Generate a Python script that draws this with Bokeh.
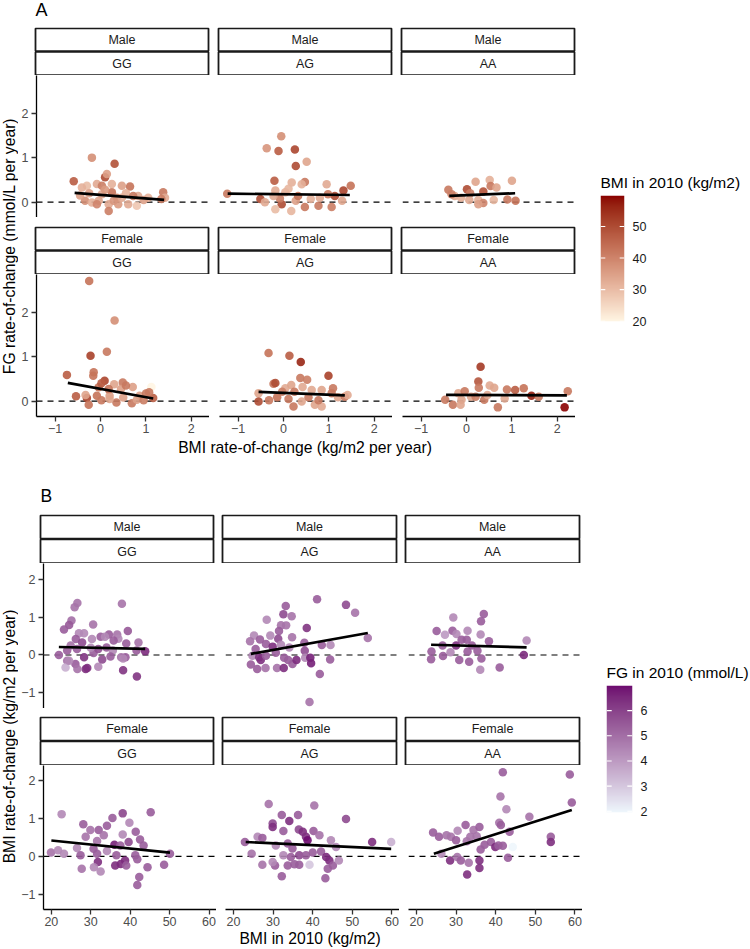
import numpy as np
from bokeh.plotting import figure
from bokeh.models import (Range1d, LinearAxis, FixedTicker, Span, Spacer,
                          LinearColorMapper, ColumnDataSource)
from bokeh.layouts import row, column
from bokeh.core.properties import value
from bokeh.embed import file_html
from bokeh.resources import INLINE

FONT = "Liberation Sans"
SEXES = ["Male", "Female"]
GENOTYPES = ["GG", "AG", "AA"]

# ---------------------------------------------------------------------------
# Panel A: FG rate-of-change (y) vs BMI rate-of-change (x), colour = BMI in 2010
# each entry: (BMI rate-of-change, FG rate-of-change, BMI in 2010)
# ---------------------------------------------------------------------------
a_male_gg = [(-0.59, 0.47, 47), (-0.19, 1.00, 38), (0.31, 0.86, 49), (0.10, 0.56, 50),
             (0.14, 0.63, 35), (-0.08, 0.41, 33), (-0.30, 0.37, 30), (-0.41, 0.33, 32),
             (0.65, 0.35, 43), (0.47, 0.37, 35), (0.25, 0.22, 43), (0.36, 0.10, 38),
             (0.03, 0.18, 33), (-0.34, 0.03, 38), (-0.19, -0.01, 32), (-0.04, 0.03, 34),
             (0.18, -0.05, 33), (0.18, -0.20, 41), (0.39, -0.05, 36), (0.61, -0.05, 33),
             (0.80, -0.08, 28), (0.83, 0.14, 33), (1.05, 0.10, 32), (1.38, 0.22, 42),
             (1.42, 0.10, 33), (1.34, 0.07, 41), (-0.08, -0.05, 40), (0.29, 0.03, 37),
             (0.47, 0.10, 33), (0.03, 0.37, 41), (0.25, 0.41, 32), (0.56, 0.20, 32),
             (0.72, 0.14, 42), (-0.45, 0.15, 35), (0.10, 0.28, 36), (-0.25, 0.20, 35),
             (0.95, 0.05, 35)]
a_male_ag = [(-1.24, 0.19, 42), (-0.37, 1.21, 37), (-0.05, 1.48, 38), (-0.11, 1.15, 47),
             (0.25, 1.18, 51), (0.27, 0.81, 50), (0.51, 0.91, 34), (-0.20, 0.48, 47),
             (0.47, 0.45, 42), (0.18, 0.44, 32), (0.95, 0.40, 33), (1.48, 0.37, 43),
             (1.32, 0.26, 51), (1.13, 0.14, 50), (0.98, 0.18, 42), (-0.51, 0.07, 50),
             (-0.18, 0.26, 33), (0.04, 0.22, 32), (0.11, 0.30, 31), (-0.04, -0.05, 50),
             (-0.18, -0.16, 30), (0.17, -0.20, 31), (0.47, -0.11, 42), (0.77, -0.08, 42),
             (1.06, -0.11, 41), (1.29, 0.03, 34), (-0.41, 0.00, 33), (0.27, 0.03, 35),
             (0.60, 0.07, 32), (0.80, 0.10, 33), (0.32, 0.14, 43), (-0.08, 0.08, 41),
             (0.40, 0.40, 32), (-0.22, 0.14, 33)]
a_male_aa = [(-0.40, 0.28, 42), (0.01, 0.29, 50), (0.20, 0.46, 34), (0.51, 0.50, 32),
             (0.53, 0.36, 42), (0.66, 0.33, 34), (1.00, 0.48, 34), (0.37, 0.24, 49),
             (-0.26, 0.14, 33), (-0.12, 0.10, 32), (0.08, 0.20, 41), (0.26, 0.05, 32),
             (0.37, -0.02, 40), (0.26, -0.05, 35), (0.60, 0.05, 31), (0.90, 0.06, 42),
             (1.08, 0.03, 43), (0.06, 0.05, 33), (-0.33, 0.18, 41)]
a_female_gg = [(-0.25, 2.70, 43), (0.31, 1.81, 38), (-0.22, 1.02, 52), (0.14, 1.11, 42),
               (-0.74, 0.59, 47), (-0.15, 0.65, 43), (-0.16, 0.57, 43), (0.09, 0.46, 51),
               (0.49, 0.42, 42), (0.30, 0.38, 34), (0.71, 0.32, 35), (1.12, 0.32, 19.9),
               (-0.54, 0.11, 47), (-0.30, 0.07, 51), (-0.26, -0.08, 43), (-0.08, 0.12, 43),
               (0.02, 0.02, 42), (0.20, 0.12, 35), (0.35, -0.03, 42), (0.50, 0.08, 35),
               (0.69, -0.05, 42), (0.86, 0.12, 35), (1.00, 0.17, 42), (1.16, 0.07, 47),
               (1.07, 0.20, 42), (0.18, 0.27, 43), (-0.04, 0.31, 43), (0.45, 0.27, 35),
               (0.56, 0.35, 42), (-0.33, 0.14, 34), (0.02, 0.40, 47), (0.20, 0.05, 34),
               (0.80, 0.03, 35), (0.95, 0.02, 41)]
a_female_ag = [(-0.33, 1.08, 43), (0.13, 1.02, 47), (0.38, 0.88, 56), (0.99, 0.57, 52),
               (-0.22, 0.39, 43), (-0.18, 0.41, 50), (0.37, 0.52, 42), (0.52, 0.48, 41),
               (0.04, 0.29, 33), (0.17, 0.36, 34), (-0.55, 0.18, 34), (-0.55, -0.01, 50),
               (-0.32, 0.02, 42), (-0.14, 0.09, 43), (0.11, 0.05, 42), (0.22, -0.12, 42),
               (0.40, -0.01, 34), (0.55, 0.09, 42), (0.69, -0.08, 34), (0.84, -0.12, 33),
               (0.77, 0.02, 42), (1.06, 0.18, 42), (1.09, 0.29, 42), (1.20, 0.09, 34),
               (1.35, 0.10, 42), (1.41, 0.14, 33), (0.62, 0.25, 33), (0.24, 0.21, 42),
               (0.84, 0.25, 34), (-0.03, 0.21, 41), (0.42, 0.32, 33)]
a_female_aa = [(0.31, 0.77, 53), (0.26, 0.44, 48), (0.51, 0.35, 33), (0.27, 0.30, 42),
               (0.61, 0.30, 34), (0.89, 0.26, 42), (1.07, 0.25, 47), (1.26, 0.29, 43),
               (1.43, 0.12, 57), (1.59, 0.10, 42), (2.23, 0.22, 42), (2.16, -0.14, 59.8),
               (-0.47, 0.03, 42), (-0.30, -0.08, 42), (-0.11, 0.03, 34), (-0.13, -0.08, 34),
               (-0.18, 0.18, 34), (-0.04, 0.22, 42), (0.10, 0.10, 34), (0.39, 0.03, 42),
               (0.69, -0.14, 42), (0.84, 0.06, 33), (0.46, 0.14, 33), (0.20, 0.10, 41)]

# linear fits per facet (Male GG, AG, AA, Female GG, AG, AA): end points
a_fit_x = [(-0.57, 1.40), (-1.23, 1.46), (-0.38, 1.07), (-0.72, 1.16), (-0.55, 1.35), (-0.45, 2.21)]
a_fit_y = [(0.21, 0.05), (0.19, 0.16), (0.14, 0.20), (0.41, 0.06), (0.21, 0.13), (0.14, 0.13)]

a_x_ticks = [-1, 0, 1, 2]
a_y_ticks = [0, 1, 2]
a_color_ticks = [20, 30, 40, 50]

# ---------------------------------------------------------------------------
# Panel B: BMI rate-of-change (y) vs BMI in 2010 (x), colour = FG in 2010
# each entry: (BMI in 2010, BMI rate-of-change, FG in 2010)
# ---------------------------------------------------------------------------
b_male_gg = [(26.6, 1.37, 4.9), (25.9, 1.26, 4.9), (37.9, 1.35, 4.9), (25.1, 0.91, 5.0),
             (24.5, 0.79, 5.5), (23.2, 0.67, 5.4), (30.6, 0.80, 4.9), (39.4, 0.63, 5.5),
             (27.0, 0.57, 4.4), (28.3, 0.57, 4.4), (32.5, 0.48, 5.4), (34.6, 0.54, 5.4),
             (36.7, 0.54, 4.9), (37.0, 0.43, 4.4), (26.2, 0.42, 5.4), (27.8, 0.33, 5.8),
             (30.3, 0.42, 4.4), (33.6, 0.48, 4.4), (35.8, 0.38, 5.4), (39.0, 0.30, 5.4),
             (42.1, 0.33, 4.9), (43.8, 0.10, 6.5), (21.9, 0.00, 5.4), (24.0, 0.12, 5.4),
             (24.9, 0.25, 4.9), (26.5, 0.16, 5.4), (28.3, -0.06, 6.3), (30.7, 0.05, 5.4),
             (31.9, 0.16, 5.7), (34.0, 0.20, 5.4), (35.6, 0.12, 4.4), (37.7, -0.06, 4.9),
             (38.8, -0.06, 5.4), (41.6, 0.12, 5.4), (24.0, -0.15, 4.9), (26.1, -0.24, 5.4),
             (23.6, -0.33, 3.5), (24.5, -0.15, 4.4), (28.7, -0.37, 6.4), (29.1, -0.34, 6.4),
             (26.6, -0.37, 4.9), (31.9, -0.31, 4.4), (32.9, -0.12, 5.8), (38.2, -0.40, 6.3),
             (41.7, -0.57, 6.3), (38.2, -0.09, 4.4), (35.0, -0.04, 5.4), (30.0, 0.19, 4.4)]
b_male_ag = [(41.1, 1.47, 5.4), (48.4, 1.32, 5.8), (50.7, 1.11, 4.9), (33.2, 1.29, 5.4),
             (32.6, 1.07, 5.8), (34.7, 1.02, 4.9), (28.4, 0.93, 4.4), (32.0, 0.78, 4.9),
             (33.3, 0.78, 4.9), (38.5, 0.71, 6.3), (31.5, 0.63, 5.4), (34.8, 0.47, 4.9),
             (31.3, 0.43, 5.8), (29.3, 0.51, 4.4), (25.2, 0.51, 4.4), (24.2, 0.36, 4.9),
             (26.7, 0.41, 5.4), (28.2, 0.29, 5.4), (29.9, 0.22, 6.4), (37.9, 0.32, 5.4),
             (42.3, 0.26, 5.4), (44.5, 0.26, 4.4), (53.9, 0.45, 4.9), (25.6, 0.16, 5.4),
             (24.8, -0.02, 4.4), (26.5, -0.06, 6.4), (24.4, -0.25, 5.4), (26.0, -0.37, 5.4),
             (28.1, -0.34, 4.9), (26.9, -0.13, 6.4), (30.7, 0.06, 5.4), (32.8, -0.07, 5.4),
             (31.0, -0.34, 4.9), (32.7, -0.34, 6.4), (33.8, -0.13, 5.4), (34.9, -0.24, 5.4),
             (35.9, -0.13, 6.5), (38.0, 0.11, 5.8), (38.1, -0.07, 4.4), (39.4, -0.07, 6.7),
             (39.6, -0.22, 6.7), (41.8, -0.50, 5.4), (44.4, -0.12, 5.4), (39.2, -1.24, 4.9),
             (34.1, 0.20, 4.4), (32.0, 0.27, 4.4), (28.2, -0.02, 5.4)]
b_male_aa = [(29.3, 0.99, 4.4), (37.0, 1.08, 5.4), (36.3, 0.89, 5.4), (25.1, 0.63, 5.4),
             (27.2, 0.53, 4.0), (29.1, 0.64, 5.4), (30.1, 0.55, 4.4), (32.9, 0.64, 4.4),
             (36.2, 0.54, 4.4), (31.4, 0.40, 5.4), (32.7, 0.40, 5.4), (38.3, 0.36, 5.4),
             (47.8, 0.38, 4.4), (26.6, 0.25, 5.4), (30.0, 0.25, 6.4), (34.0, 0.25, 5.4),
             (35.4, 0.11, 5.4), (32.9, 0.09, 5.4), (23.8, 0.09, 5.4), (28.6, 0.07, 4.4),
             (47.1, 0.00, 6.5), (23.7, -0.11, 5.4), (26.7, -0.03, 5.4), (30.8, -0.13, 5.4),
             (33.3, -0.18, 5.4), (36.4, -0.09, 5.4), (36.1, -0.39, 4.4), (41.0, -0.33, 5.4)]
b_female_gg = [(22.6, 1.12, 4.4), (45.2, 1.17, 5.4), (38.1, 1.14, 5.9), (35.5, 1.02, 5.4),
               (28.1, 0.85, 5.4), (39.8, 0.89, 4.4), (34.1, 0.81, 5.4), (29.9, 0.70, 4.9),
               (32.0, 0.70, 5.4), (28.7, 0.52, 4.9), (33.3, 0.56, 4.9), (38.1, 0.58, 4.4),
               (41.4, 0.65, 5.4), (42.5, 0.45, 5.4), (43.4, 0.29, 5.4), (36.0, 0.31, 6.7),
               (37.5, 0.29, 5.4), (39.6, 0.38, 5.8), (31.6, 0.41, 4.9), (26.5, 0.22, 4.4),
               (30.7, 0.20, 5.4), (34.1, 0.14, 4.4), (19.9, 0.10, 4.9), (21.7, 0.16, 4.4),
               (23.2, 0.07, 4.4), (27.4, 0.03, 5.4), (31.6, 0.07, 5.4), (36.5, 0.03, 5.4),
               (38.7, -0.11, 6.5), (41.3, 0.03, 5.4), (31.8, -0.15, 6.4), (36.2, -0.24, 6.4),
               (37.6, -0.20, 6.5), (39.0, -0.24, 5.4), (41.8, -0.08, 5.4), (27.7, -0.33, 4.9),
               (30.8, -0.29, 4.4), (32.5, -0.40, 4.4), (44.4, -0.29, 5.4), (48.6, -0.22, 5.4),
               (50.1, 0.07, 5.4), (42.3, -0.55, 5.4), (41.8, -0.76, 5.4)]
b_female_ag = [(28.9, 1.39, 4.9), (40.4, 1.35, 4.9), (48.4, 0.99, 5.8), (55.0, 0.38, 6.4),
               (59.8, 0.38, 3.5), (22.9, 0.38, 5.4), (24.6, 0.07, 4.9), (26.1, 0.52, 4.4),
               (27.3, 0.49, 5.4), (29.9, 0.87, 5.8), (29.9, 0.78, 6.4), (32.2, 1.10, 5.4),
               (34.1, 0.94, 6.4), (36.3, 1.10, 5.4), (32.6, 0.67, 5.4), (36.5, 0.71, 5.8),
               (37.5, 0.65, 6.4), (38.3, 0.52, 6.4), (38.7, 0.43, 7.0), (40.2, 0.67, 5.4),
               (41.7, 0.56, 4.9), (44.6, 0.43, 4.4), (45.9, 0.25, 4.4), (30.7, 0.29, 4.4),
               (33.7, 0.34, 5.4), (34.9, 0.21, 5.4), (36.6, 0.03, 5.8), (40.0, 0.10, 5.4),
               (42.1, 0.13, 5.4), (43.4, -0.02, 6.5), (32.6, 0.03, 4.4), (34.5, -0.02, 5.4),
               (27.3, -0.22, 4.9), (30.5, -0.24, 5.4), (33.7, -0.24, 5.4), (36.6, -0.22, 5.4),
               (35.4, -0.21, 5.4), (29.9, -0.15, 4.4), (39.2, -0.22, 3.0), (44.2, -0.11, 6.5),
               (45.1, -0.24, 5.4), (46.6, -0.11, 4.4), (32.2, -0.53, 5.4), (43.2, -0.58, 5.4),
               (43.8, -0.33, 5.4), (38.3, 0.03, 5.4)]
b_female_aa = [(41.8, 2.23, 5.4), (58.7, 2.17, 5.4), (59.2, 1.43, 5.4), (41.2, 1.59, 4.9),
               (42.7, 1.25, 4.4), (48.5, 1.05, 4.9), (40.9, 0.89, 4.9), (41.3, 0.83, 5.4),
               (32.4, 0.83, 5.4), (30.4, 0.68, 4.4), (34.4, 0.70, 4.9), (35.9, 0.78, 5.4),
               (24.2, 0.63, 5.4), (25.7, 0.52, 5.4), (27.6, 0.56, 4.9), (28.7, 0.52, 4.9),
               (30.0, 0.43, 5.4), (32.7, 0.40, 4.9), (33.6, 0.52, 4.9), (35.2, 0.53, 4.9),
               (37.2, 0.31, 5.4), (38.8, 0.38, 5.4), (39.9, 0.25, 6.5), (40.7, 0.29, 5.4),
               (41.8, 0.28, 5.4), (43.5, 0.65, 5.4), (36.2, 0.18, 5.4), (44.3, 0.25, 1.95),
               (53.9, 0.52, 5.4), (53.9, 0.38, 6.4), (28.5, -0.11, 6.4), (30.3, -0.02, 4.9),
               (31.2, -0.11, 5.4), (33.2, -0.17, 4.9), (32.8, -0.48, 6.4), (35.9, -0.11, 6.4),
               (35.9, -0.31, 6.4), (43.1, -0.04, 5.4), (26.3, 0.07, 4.4)]

b_fit_x = [(21.9, 43.8), (24.4, 53.9), (23.7, 47.8), (20.0, 50.1), (23.1, 59.8), (24.4, 59.2)]
b_fit_y = [(0.21, 0.16), (0.03, 0.58), (0.27, 0.20), (0.42, 0.10), (0.38, 0.20), (0.07, 1.23)]

b_x_ticks = [20, 30, 40, 50, 60]
b_y_ticks = [-1, 0, 1, 2]
b_color_ticks = [2, 3, 4, 5, 6]


# ---------------------------------------------------------------------------
# colour ramps interpolated in CIELAB
# ---------------------------------------------------------------------------
def _to_lab(h):
    rgb = [int(h[i:i + 2], 16) / 255 for i in (1, 3, 5)]
    lin = [c / 12.92 if c <= 0.04045 else ((c + 0.055) / 1.055) ** 2.4 for c in rgb]
    m = [[0.4124564, 0.3575761, 0.1804375],
         [0.2126729, 0.7151522, 0.0721750],
         [0.0193339, 0.1191920, 0.9503041]]
    X, Y, Z = [sum(m[i][j] * lin[j] for j in range(3)) for i in range(3)]
    d = 6 / 29

    def f(t):
        return t ** (1 / 3) if t > d ** 3 else t / (3 * d * d) + 4 / 29

    fx, fy, fz = f(X / 0.95047), f(Y), f(Z / 1.08883)
    return 116 * fy - 16, 500 * (fx - fy), 200 * (fy - fz)


def _to_hex(lab):
    L, a, b = lab
    fy = (L + 16) / 116
    fx, fz = fy + a / 500, fy - b / 200
    d = 6 / 29

    def g(t):
        return t ** 3 if t > d else 3 * d * d * (t - 4 / 29)

    X, Y, Z = 0.95047 * g(fx), g(fy), 1.08883 * g(fz)
    mi = [[3.2404542, -1.5371385, -0.4985314],
          [-0.9692660, 1.8760108, 0.0415560],
          [0.0556434, -0.2040259, 1.0572252]]
    out = []
    for r in mi:
        c = min(1.0, max(0.0, r[0] * X + r[1] * Y + r[2] * Z))
        c = 12.92 * c if c <= 0.0031308 else 1.055 * c ** (1 / 2.4) - 0.055
        out.append(int(round(min(1.0, max(0.0, c)) * 255)))
    return "#%02x%02x%02x" % tuple(out)


def lab_ramp(lo, hi, n=256):
    a, b = np.array(_to_lab(lo)), np.array(_to_lab(hi))
    return [_to_hex(a + (b - a) * t) for t in np.linspace(0, 1, n)]


# ---------------------------------------------------------------------------
# drawing helpers
# ---------------------------------------------------------------------------
def base_fig(**kw):
    p = figure(toolbar_location=None, tools="", output_backend="svg",
               x_axis_location=None, y_axis_location=None, min_border=0,
               outline_line_color=None, background_fill_color="white",
               border_fill_color="white", **kw)
    p.grid.visible = False
    return p


def canvas(w, h):
    return base_fig(width=w, height=h, x_range=Range1d(0, w), y_range=Range1d(h, 0))


def put_text(p, x, y, s, size, color="black", align="left", angle=0.0):
    p.text(x=[x], y=[y], text=[s], text_font=value(FONT), text_font_size=size,
           text_color=color, text_align=align, text_baseline="middle", angle=angle)


def style_axis(ax, ticks, standoff):
    ax.ticker = FixedTicker(ticks=ticks)
    ax.axis_line_color = "black"
    ax.axis_line_width = 1.3
    ax.major_tick_line_color = "#333333"
    ax.major_tick_line_width = 1.3
    ax.major_tick_in = 0
    ax.major_tick_out = 5
    ax.minor_tick_line_color = None
    ax.major_label_standoff = standoff
    ax.major_label_text_font = FONT
    ax.major_label_text_font_size = "12.5px"
    ax.major_label_text_color = "#4D4D4D"


def strip_row(x0, x1, y0, y1, cols, sex):
    p = base_fig(width=x1 - x0, height=y1 - y0,
                 x_range=Range1d(x0, x1), y_range=Range1d(y1, y0))
    mid = (y0 + y1) / 2
    for (l, r), gt in zip(cols, GENOTYPES):
        p.quad(left=[l, l], right=[r, r], top=[y0 + 0.9, mid + 0.45],
               bottom=[mid - 0.45, y1 - 0.3], fill_color="white",
               line_color="#1A1A1A", line_width=1.8)
        put_text(p, (l + r) / 2, (y0 + mid) / 2 + 0.5, sex, "12.5px", "#1A1A1A", "center")
        put_text(p, (l + r) / 2, (mid + y1) / 2 + 0.5, gt, "12.5px", "#1A1A1A", "center")
    return p


def facet(pts, fx, fy, xr, yr, mapper, fw, fh, left, bottom, xticks, yticks):
    p = base_fig(frame_width=fw, frame_height=fh, x_range=xr, y_range=yr,
                 min_border_left=left, min_border_bottom=bottom)
    p.add_layout(Span(location=0, dimension="width", line_color="black",
                      line_width=1.2, line_dash="6 5", level="underlay"))
    src = ColumnDataSource(dict(x=[t[0] for t in pts], y=[t[1] for t in pts],
                                c=[t[2] for t in pts]))
    p.scatter("x", "y", source=src, size=8.5, line_color=None, fill_alpha=0.9,
              fill_color={"field": "c", "transform": mapper})
    p.line(x=list(fx), y=list(fy), line_color="black", line_width=2.7)
    if left:
        ax = LinearAxis()
        style_axis(ax, yticks, 3)
        p.add_layout(ax, "left")
    if bottom:
        ax = LinearAxis()
        style_axis(ax, xticks, 2)
        p.add_layout(ax, "below")
    return p


def colorbar(mapper, lo, hi, ticks, title, w, fw, fh, left, top, bottom):
    p = base_fig(frame_width=fw, frame_height=fh, x_range=Range1d(0, 1),
                 y_range=Range1d(lo, hi), min_border_left=left,
                 min_border_right=w - left - fw, min_border_top=top,
                 min_border_bottom=bottom)
    p.title.text = title
    p.title.align = "left"
    p.title.text_font = FONT
    p.title.text_font_size = "15.5px"
    p.title.text_font_style = "normal"
    p.title.text_color = "black"
    p.title.standoff = 10
    p.image(image=[np.linspace(lo, hi, 400).reshape(400, 1)], x=0, y=lo,
            dw=1, dh=hi - lo, color_mapper=mapper)
    n = len(ticks)
    p.segment(x0=[0] * n + [0.8] * n, x1=[0.2] * n + [1] * n,
              y0=list(ticks) * 2, y1=list(ticks) * 2,
              line_color="white", line_width=1.1)
    ax = LinearAxis(ticker=FixedTicker(ticks=ticks), axis_line_color=None,
                    major_tick_line_color=None, minor_tick_line_color=None,
                    major_tick_in=0, major_tick_out=0, major_label_standoff=8,
                    major_label_text_font=FONT, major_label_text_font_size="12.5px",
                    major_label_text_color="#1A1A1A")
    p.add_layout(ax, "right")
    return p


def panel(letter, letter_pos, head_h, letter_size, facets_pts, fit_x, fit_y, xr, yr,
          mapper, lo, hi, cticks, geo):
    header = canvas(750, head_h)
    put_text(header, letter_pos[0], letter_pos[1], letter, letter_size)

    mid_w = geo["mid_w"]
    x0 = 18
    body_h = geo["body_h"]

    ytitle = canvas(18, body_h)
    put_text(ytitle, 9, geo["ytitle_y"], geo["ytitle"], "15.7px", "black", "center", np.pi / 2)

    rows = []
    for si, sex in enumerate(SEXES):
        rows.append(strip_row(x0, x0 + mid_w, geo["strip_y"][si],
                              geo["strip_y"][si] + geo["strip_h"], geo["cols"], sex))
        figs = []
        for gi in range(3):
            k = si * 3 + gi
            left = geo["left"] if gi == 0 else 0
            bottom = geo["bottom"] if si == 1 else 0
            fw = geo["cols"][gi][1] - geo["cols"][gi][0]
            figs.append(facet(facets_pts[k], fit_x[k], fit_y[k], xr, yr, mapper,
                              fw, geo["frame_h"][si], left, bottom,
                              geo["xticks"], geo["yticks"]))
        hh = geo["frame_h"][si] + (geo["bottom"] if si == 1 else 0)
        g1 = geo["cols"][1][0] - geo["cols"][0][1]
        g2 = geo["cols"][2][0] - geo["cols"][1][1]
        g3 = x0 + mid_w - geo["cols"][2][1]
        rows.append(row(figs[0], Spacer(width=g1, height=hh), figs[1],
                        Spacer(width=g2, height=hh), figs[2], Spacer(width=g3, height=hh)))
        if si == 0:
            rows.append(Spacer(width=mid_w, height=geo["gap"]))
    xtitle = canvas(mid_w, geo["xtitle_h"])
    cx = (geo["cols"][0][0] + geo["cols"][2][1]) / 2 - x0
    put_text(xtitle, cx, geo["xtitle_y"], geo["xtitle"], "15.7px", "black", "center")
    rows.append(xtitle)
    middle = column(*rows)

    cb_w = 750 - x0 - mid_w
    pad_top = geo["cb_pad_top"]
    cb_border_top = geo["cb_top"] - pad_top
    bar = colorbar(mapper, lo, hi, cticks, geo["cb_title"], cb_w, geo["cb_fw"],
                   geo["cb_fh"], geo["cb_left"], cb_border_top, 10)
    cb_col = column(Spacer(width=cb_w, height=pad_top), bar,
                    Spacer(width=cb_w, height=body_h - geo["cb_top"] - geo["cb_fh"] - 10))
    return column(header, row(ytitle, middle, cb_col))


# ---------------------------------------------------------------------------
# colour mappers
# ---------------------------------------------------------------------------
a_all = a_male_gg + a_male_ag + a_male_aa + a_female_gg + a_female_ag + a_female_aa
b_all = b_male_gg + b_male_ag + b_male_aa + b_female_gg + b_female_ag + b_female_aa
a_lo, a_hi = min(t[2] for t in a_all), max(t[2] for t in a_all)
b_lo, b_hi = min(t[2] for t in b_all), max(t[2] for t in b_all)
a_mapper = LinearColorMapper(palette=lab_ramp("#FFF5E3", "#8B0000"), low=a_lo, high=a_hi)
b_mapper = LinearColorMapper(palette=lab_ramp("#EEF6FC", "#6E0B70"), low=b_lo, high=b_hi)

a_xr, a_yr = Range1d(-1.41, 2.40), Range1d(-0.345, 2.845)
b_xr, b_yr = Range1d(18.0, 61.9), Range1d(-1.41, 2.41)

geo_a = dict(mid_w=560, body_h=431, ytitle_y=218.5,
             ytitle="FG rate-of-change (mmol/L per year)",
             strip_y=[27, 226], strip_h=48,
             cols=[(35, 208), (218, 391), (401, 574)],
             left=17, bottom=24, frame_h=[142, 142], gap=9,
             xticks=a_x_ticks, yticks=a_y_ticks,
             xtitle_h=18, xtitle_y=7, xtitle="BMI rate-of-change (kg/m2 per year)",
             cb_top=168, cb_pad_top=128, cb_title="BMI in 2010 (kg/m2)",
             cb_left=21, cb_fw=24, cb_fh=126)
geo_b = dict(mid_w=564, body_h=435, ytitle_y=222,
             ytitle="BMI rate-of-change (kg/m2 per year)",
             strip_y=[514, 716], strip_h=49,
             cols=[(40, 213), (222, 396), (405, 579)],
             left=22, bottom=22, frame_h=[145, 144], gap=8,
             xticks=b_x_ticks, yticks=b_y_ticks,
             xtitle_h=18, xtitle_y=7, xtitle="BMI in 2010 (kg/m2)",
             cb_top=171, cb_pad_top=136, cb_title="FG in 2010 (mmol/L)",
             cb_left=21, cb_fw=26, cb_fh=127)

panel_a = panel("A", (35, 9.5), 27, "18px",
                [a_male_gg, a_male_ag, a_male_aa, a_female_gg, a_female_ag, a_female_aa],
                a_fit_x, a_fit_y, a_xr, a_yr, a_mapper, a_lo, a_hi, a_color_ticks, geo_a)
panel_b = panel("B", (40, 37), 56, "17.5px",
                [b_male_gg, b_male_ag, b_male_aa, b_female_gg, b_female_ag, b_female_aa],
                b_fit_x, b_fit_y, b_xr, b_yr, b_mapper, b_lo, b_hi, b_color_ticks, geo_b)

page = column(panel_a, panel_b)
open("out.html", "w").write(file_html(page, INLINE))
